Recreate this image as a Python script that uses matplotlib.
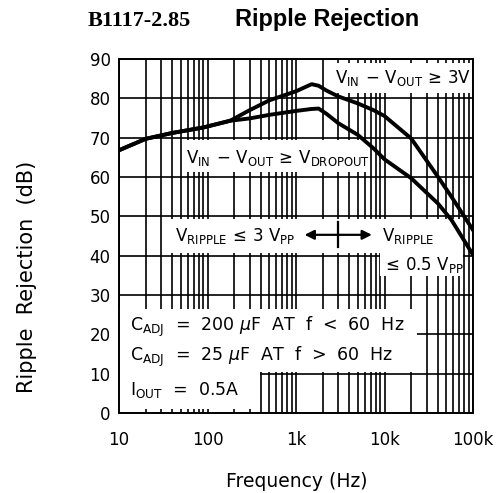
import matplotlib
matplotlib.use("Agg")
import matplotlib.pyplot as plt
from matplotlib.patches import Rectangle
from matplotlib.ticker import FixedLocator, FixedFormatter

plt.rcParams['font.family'] = ['DejaVu Sans']
plt.rcParams['mathtext.fontset'] = 'dejavusans'

# frequency points (Hz)
freq_hz = [10, 20, 40, 90, 180, 300, 500, 1000, 1500, 1800, 2200, 3000,
           5000, 7500, 10000, 20000, 40000, 57000, 100000]
# V_IN - V_OUT >= 3V
rej_3v = [66.8, 69.7, 71.2, 72.6, 74.3, 77.0, 79.5, 81.8, 83.6, 83.2, 82.0,
          80.5, 78.7, 77.0, 75.5, 69.8, 60.1, 55.0, 46.5]
# V_IN - V_OUT >= V_DROPOUT
rej_dropout = [66.8, 69.7, 71.2, 72.6, 74.3, 74.9, 75.8, 76.8, 77.3, 77.4,
               76.1, 73.7, 70.7, 67.3, 64.5, 59.7, 53.3, 49.1, 40.2]

x_ticks = [10, 100, 1000, 10000, 100000]
x_tick_labels = ['10', '100', '1k', '10k', '100k']
y_ticks = list(range(0, 91, 10))

fig = plt.figure(figsize=(5.03, 4.93), dpi=100)
ax = fig.add_axes([0.2366, 0.1623, 0.7038, 0.718])

ax.set_xscale('log')
ax.set_xlim(10, 100000)
ax.set_ylim(0, 90)
ax.xaxis.set_major_locator(FixedLocator(x_ticks))
ax.xaxis.set_major_formatter(FixedFormatter(x_tick_labels))
ax.set_yticks(y_ticks)
ax.grid(True, which='both', color='black', lw=1.2)
ax.tick_params(which='both', length=0, labelsize=12)
ax.tick_params(axis='x', pad=13)
ax.tick_params(axis='y', pad=6)
for s in ax.spines.values():
    s.set_linewidth(1.4)

ax.plot(freq_hz, rej_3v, color='black', lw=2.8, zorder=4)
ax.plot(freq_hz, rej_dropout, color='black', lw=2.8, zorder=4)

# white label boxes that break the grid
def mask(x, y, w, h):
    ax.add_patch(Rectangle((x, y), w, h, transform=ax.transAxes,
                           facecolor='white', edgecolor='none', zorder=2))

mask(0.605, 0.904, 0.39, 0.085)
mask(0.186, 0.681, 0.517, 0.090)
mask(0.121, 0.452, 0.616, 0.096)
mask(0.737, 0.387, 0.235, 0.161)
mask(0.0, 0.116, 0.842, 0.178)
mask(0.0, 0.011, 0.398, 0.105)

fs = 12
ax.text(0.802, 0.947, r'$\mathregular{V_{IN}\,-\,V_{OUT}\,\geq\,3V}$',
        transform=ax.transAxes, ha='center', va='center', fontsize=fs, zorder=5)
ax.text(0.448, 0.721, r'$\mathregular{V_{IN}\,-\,V_{OUT}\,\geq\,V_{DROPOUT}}$',
        transform=ax.transAxes, ha='center', va='center', fontsize=fs, zorder=5)
ax.text(0.328, 0.5, r'$\mathregular{V_{RIPPLE}\,\leq\,3\ V_{PP}}$',
        transform=ax.transAxes, ha='center', va='center', fontsize=fs, zorder=5)
ax.text(0.743, 0.5, r'$\mathregular{V_{RIPPLE}}$',
        transform=ax.transAxes, ha='left', va='center', fontsize=fs, zorder=5)
ax.text(0.743, 0.418, r'$\mathregular{\leq\,0.5\ V_{PP}}$',
        transform=ax.transAxes, ha='left', va='center', fontsize=fs, zorder=5)

ax.annotate('', xy=(7200, 45.3), xytext=(1250, 45.3),
            arrowprops=dict(arrowstyle='<|-|>', color='black', lw=1.6,
                            mutation_scale=14, shrinkA=0, shrinkB=0), zorder=5)
ax.plot([3000, 3000], [42.2, 48.6], color='black', lw=1.6, zorder=5)

fs2 = 12.5
ax.text(0.031, 0.243, r'$\mathregular{C_{ADJ}}$  =  200 $\mu$F  AT  f  <  60  Hz',
        transform=ax.transAxes, ha='left', va='center', fontsize=fs2, zorder=5)
ax.text(0.031, 0.158, r'$\mathregular{C_{ADJ}}$  =  25 $\mu$F  AT  f  >  60  Hz',
        transform=ax.transAxes, ha='left', va='center', fontsize=fs2, zorder=5)
ax.text(0.031, 0.065, r'$\mathregular{I_{OUT}}$  =  0.5A',
        transform=ax.transAxes, ha='left', va='center', fontsize=fs2, zorder=5)

fig.text(27 / 503, 1 - 277 / 493, 'Ripple  Rejection  (dB)', rotation=90,
         ha='center', va='center', fontsize=15)
fig.text(0.589, 2 / 493, 'Frequency (Hz)', ha='center', va='bottom',
         fontsize=13.5)

fig.text(88 / 503, 1 - 26 / 493, 'B1117-2.85', family='Liberation Serif',
         weight='bold', fontsize=16, ha='left', va='baseline')
fig.text(235 / 503, 1 - 26 / 493, 'Ripple Rejection', family='Liberation Sans',
         weight='bold', fontsize=17, ha='left', va='baseline')

fig.savefig('out.png', dpi=100)
